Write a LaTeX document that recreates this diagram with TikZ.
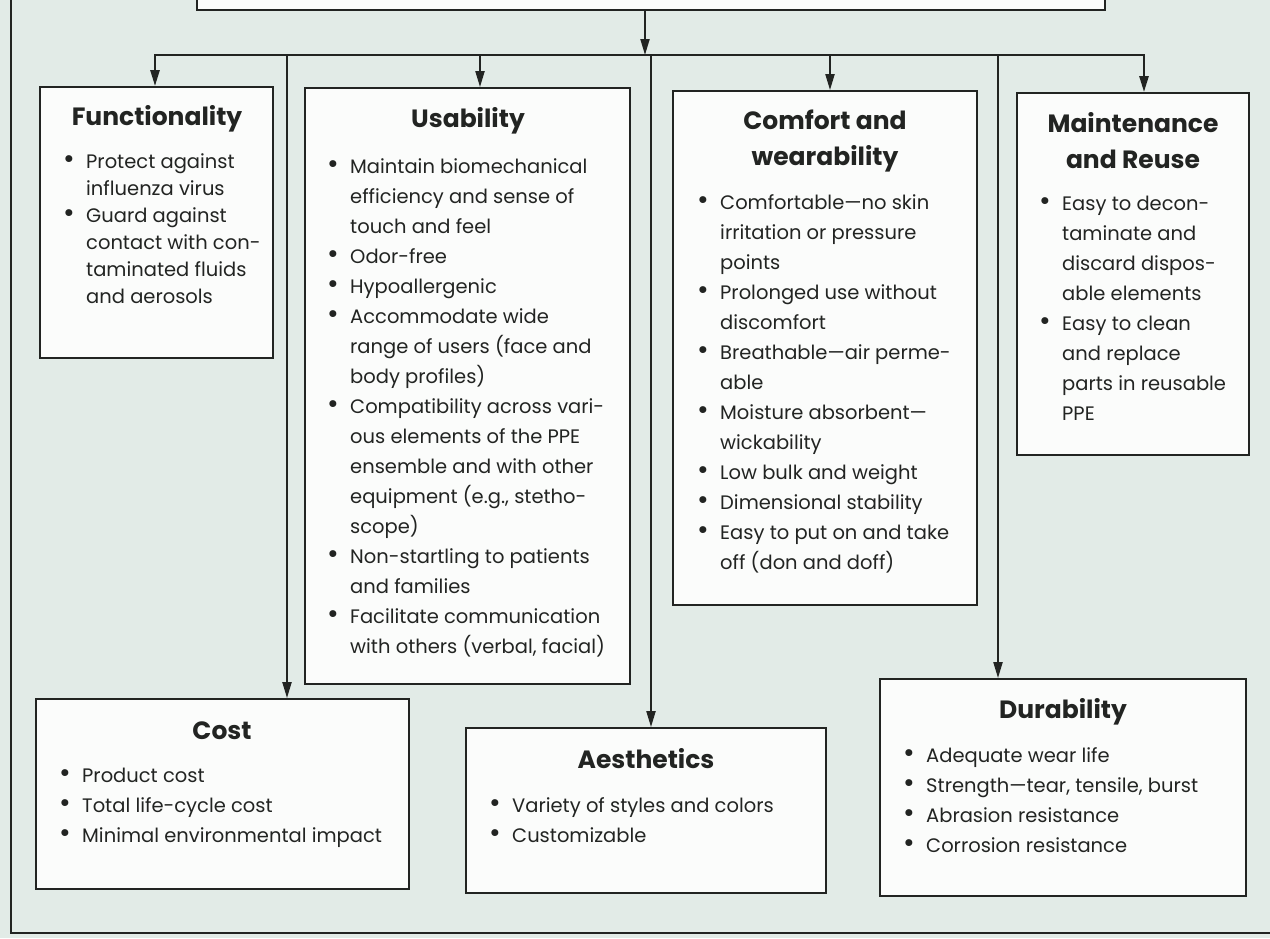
\documentclass[tikz,border=0pt]{standalone}
\usepackage{fontspec}
\setmainfont{Poppins}
\usetikzlibrary{arrows.meta}
\definecolor{paper}{RGB}{226,235,231}
\definecolor{boxfill}{RGB}{251,252,251}
\definecolor{ink}{RGB}{34,36,34}
\newcommand\bu{\makebox[23pt][l]{\raisebox{-0.5pt}{\scalebox{1.45}{\textbullet}}}}
\newcommand\mybox[5]{\node[box, minimum width={#4-#2}, minimum height={#5-#3}] (#1) at ({(#2+#4)/2},{(#3+#5)/2}) {};}
\begin{document}
\begin{tikzpicture}[x=1pt,y=-1pt,
  box/.style={draw=ink, line width=1.8pt, fill=boxfill, inner sep=0pt, rectangle},
  conn/.style={draw=ink, line width=2pt},
  arr/.style={conn, -{Triangle[length=16pt,width=9pt]}},
  ttl/.style={anchor=base, inner sep=0pt, text=ink, font=\fontsize{25}{36}\selectfont\bfseries},
  body/.style={anchor=base west, inner sep=0pt, text=ink, font=\fontsize{19.5}{30}\selectfont}]
\useasboundingbox (0,0) rectangle (1270,938);
\clip (0,0) rectangle (1270,938);
\fill[paper] (0,0) rectangle (1270,938);
% frame
\draw[draw=ink, line width=1.6pt] (11,-5) -- (11,933) -- (1275,933);

% boxes
\node[box, minimum width=908, minimum height=80] (top) at (651,-30) {};
\mybox{func}{40}{87}{273}{358}
\mybox{usab}{305}{88}{630}{684}
\mybox{comf}{673}{91}{977}{605}
\mybox{maint}{1017}{93}{1249}{455}
\mybox{cost}{36}{699}{409}{889}
\mybox{aest}{466}{728}{826}{893}
\mybox{dur}{880}{679}{1246}{896}

% connectors
\coordinate (hub) at (645,55);
\coordinate (busL) at (155,55);
\coordinate (busR) at (1144,55);
\coordinate (bU) at (480,55);
\coordinate (bC) at (830,55);
\coordinate (bCost) at (287,55);
\coordinate (bA) at (651,55);
\coordinate (bD) at (998,55);
\draw[arr] (top.south -| hub) -- (hub);
\draw[conn, line width=2.5pt, {Triangle[length=16pt,width=9pt]}-{Triangle[length=16pt,width=9pt]}, line join=miter]
  (busL |- func.north) -- (busL) -- (busR) -- (busR |- maint.north);
\draw[arr] (bU) -- (bU |- usab.north);
\draw[arr] (bC) -- (bC |- comf.north);
\draw[arr] (bCost) -- (bCost |- cost.north);
\draw[arr] (bA) -- (bA |- aest.north);
\draw[arr] (bD) -- (bD |- dur.north);

% titles
\node[ttl] (tfunc) at (157,125) {Functionality};
\node[ttl] (tusab) at (468,127) {Usability};
\node[ttl] (tcomf) at (825,129) {\begin{tabular}[t]{@{}c@{}}Comfort and\\ wearability\end{tabular}};
\node[ttl] (tmaint) at (1133,132) {\begin{tabular}[t]{@{}c@{}}Maintenance\\ and Reuse\end{tabular}};
\node[ttl] (tcost) at (222,739) {Cost};
\node[ttl] (taest) at (646,768) {Aesthetics};
\node[ttl] (tdur) at (1063,718) {Durability};

% bodies
\node[body, font=\fontsize{19.5}{27}\selectfont] (lfunc) at (63,168) {\begin{tabular}[t]{@{}l@{}l@{}}
\bu & Protect against\\
    & influenza virus\\
\bu & Guard against\\
    & contact with con-\\
    & taminated fluids\\
    & and aerosols
\end{tabular}};

\node[body] (lusab) at (327,173) {\begin{tabular}[t]{@{}l@{}l@{}}
\bu & Maintain biomechanical\\
    & efficiency and sense of\\
    & touch and feel\\
\bu & Odor-free\\
\bu & Hypoallergenic\\
\bu & Accommodate wide\\
    & range of users (face and\\
    & body profiles)\\
\bu & Compatibility across vari-\\
    & ous elements of the PPE\\
    & ensemble and with other\\
    & equipment (e.g., stetho-\\
    & scope)\\
\bu & Non-startling to patients\\
    & and families\\
\bu & Facilitate communication\\
    & with others (verbal, facial)
\end{tabular}};

\node[body] (lcomf) at (697,209) {\begin{tabular}[t]{@{}l@{}l@{}}
\bu & Comfortable—no skin\\
    & irritation or pressure\\
    & points\\
\bu & Prolonged use without\\
    & discomfort\\
\bu & Breathable—air perme-\\
    & able\\
\bu & Moisture absorbent—\\
    & wickability\\
\bu & Low bulk and weight\\
\bu & Dimensional stability\\
\bu & Easy to put on and take\\
    & off (don and doff)
\end{tabular}};

\node[body] (lmaint) at (1039,210) {\begin{tabular}[t]{@{}l@{}l@{}}
\bu & Easy to decon-\\
    & taminate and\\
    & discard dispos-\\
    & able elements\\
\bu & Easy to clean\\
    & and replace\\
    & parts in reusable\\
    & PPE
\end{tabular}};

\node[body] (lcost) at (59,782) {\begin{tabular}[t]{@{}l@{}l@{}}
\bu & Product cost\\
\bu & Total life-cycle cost\\
\bu & Minimal environmental impact
\end{tabular}};

\node[body] (laest) at (489,812) {\begin{tabular}[t]{@{}l@{}l@{}}
\bu & Variety of styles and colors\\
\bu & Customizable
\end{tabular}};

\node[body] (ldur) at (903,762) {\begin{tabular}[t]{@{}l@{}l@{}}
\bu & Adequate wear life\\
\bu & Strength—tear, tensile, burst\\
\bu & Abrasion resistance\\
\bu & Corrosion resistance
\end{tabular}};
\end{tikzpicture}
\end{document}
